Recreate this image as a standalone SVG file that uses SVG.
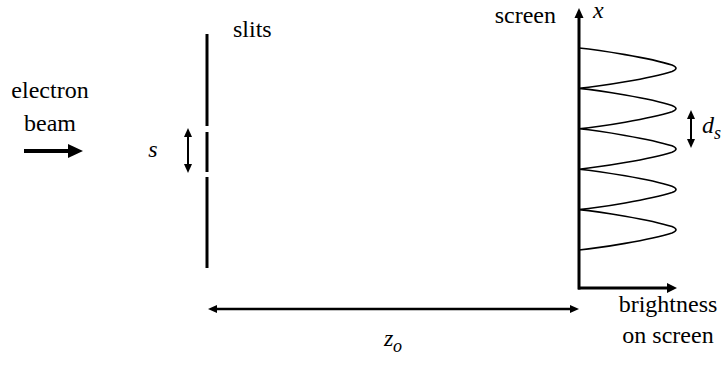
<svg xmlns="http://www.w3.org/2000/svg" width="721" height="369" viewBox="0 0 721 369">
<defs>
  <path id="ah" d="M0,0 L-9,-4 L-9,4 Z" fill="#000"/>
</defs>
<rect width="721" height="369" fill="#fff"/>

<g id="beam">
  <text x="50" y="98" text-anchor="middle" font-family="Liberation Serif, Times New Roman, serif" font-size="24">electron</text>
  <text x="50" y="131" text-anchor="middle" font-family="Liberation Serif, Times New Roman, serif" font-size="24">beam</text>
  <line x1="24" y1="151" x2="71" y2="151" stroke="#000" stroke-width="4"/>
  <polygon points="83,151 68,144 68,158" fill="#000"/>
</g>

<g id="slits">
  <line x1="207" y1="34" x2="207" y2="126" stroke="#000" stroke-width="3"/>
  <line x1="207" y1="132" x2="207" y2="172" stroke="#000" stroke-width="3"/>
  <line x1="207" y1="177" x2="207" y2="268" stroke="#000" stroke-width="3"/>
  <text x="233" y="37" font-family="Liberation Serif, Times New Roman, serif" font-size="24">slits</text>
</g>

<g id="screen">
  <text x="556" y="23" text-anchor="end" font-family="Liberation Serif, Times New Roman, serif" font-size="24">screen</text>
  <text x="593" y="18" font-family="Liberation Serif, Times New Roman, serif" font-size="24" font-style="italic">x</text>
  <path fill="none" stroke="#000" stroke-width="1.6" d="M579,48 C600,50 650,58 672,65 Q680,68.2 672,71.4 C650,78.4 600,86.4 579,88.4 C600,90.4 650,98.4 672,105.4 Q680,108.6 672,111.8 C650,118.8 600,126.8 579,128.8 C600,130.8 650,138.8 672,145.8 Q680,149 672,152.2 C650,159.2 600,167.2 579,169.2 C600,171.2 650,179.2 672,186.2 Q680,189.4 672,192.6 C650,199.6 600,207.6 579,209.6 C600,211.6 650,219.6 672,226.6 Q680,229.8 672,233 C650,240 600,248 579,250"/>
  <text x="668" y="312" text-anchor="middle" font-family="Liberation Serif, Times New Roman, serif" font-size="24">brightness</text>
  <text x="668" y="343" text-anchor="middle" font-family="Liberation Serif, Times New Roman, serif" font-size="24">on screen</text>
  <text x="702" y="133" font-family="Liberation Serif, Times New Roman, serif" font-size="24" font-style="italic">d</text>
  <text x="714" y="139" font-family="Liberation Serif, Times New Roman, serif" font-size="18" font-style="italic">s</text>
</g>

<g id="connectors">
  <line x1="579" y1="289.5" x2="579" y2="16" stroke="#000" stroke-width="3"/>
  <polygon points="579,8 574.5,18 583.5,18" fill="#000"/>
  <line x1="578" y1="288" x2="669" y2="288" stroke="#000" stroke-width="3"/>
  <polygon points="677,288 667,283 667,293" fill="#000"/>
  <line x1="188" y1="135" x2="188" y2="166" stroke="#000" stroke-width="2"/>
  <use href="#ah" transform="translate(188,128) rotate(-90)"/>
  <use href="#ah" transform="translate(188,173) rotate(90)"/>
  <line x1="691" y1="117" x2="691" y2="141" stroke="#000" stroke-width="2"/>
  <use href="#ah" transform="translate(691,110) rotate(-90)"/>
  <use href="#ah" transform="translate(691,148) rotate(90)"/>
  <line x1="215" y1="309" x2="572" y2="309" stroke="#000" stroke-width="2.5"/>
  <use href="#ah" transform="translate(208,309) rotate(180)"/>
  <use href="#ah" transform="translate(579,309)"/>
  <text x="153" y="157" text-anchor="middle" font-family="Liberation Serif, Times New Roman, serif" font-size="24" font-style="italic">s</text>
  <text x="384" y="346" font-family="Liberation Serif, Times New Roman, serif" font-size="24" font-style="italic">z</text>
  <text x="393" y="352" font-family="Liberation Serif, Times New Roman, serif" font-size="18" font-style="italic">o</text>
</g>
</svg>
